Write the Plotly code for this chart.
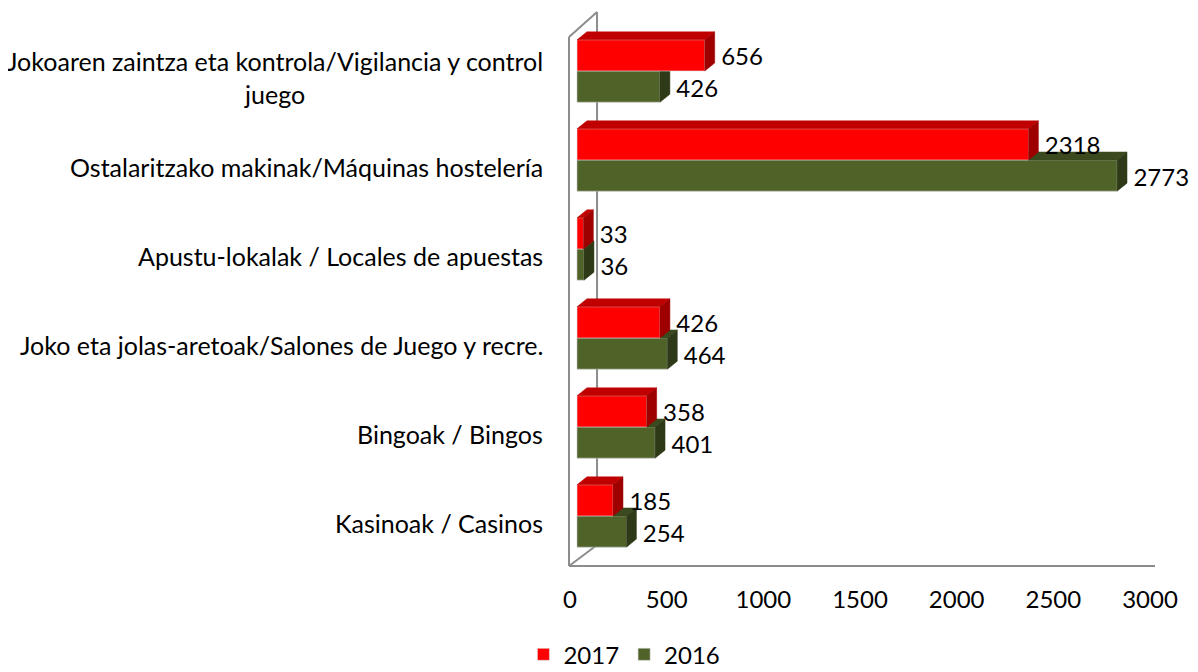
import plotly.graph_objects as go

categories = [
    "Kasinoak / Casinos",
    "Bingoak / Bingos",
    "Joko eta jolas-aretoak/Salones de Juego y recre.",
    "Apustu-lokalak / Locales de apuestas",
    "Ostalaritzako makinak/Máquinas hostelería",
    "Jokoaren zaintza eta kontrola/Vigilancia y control<br>juego",
]
values_2017 = [185, 358, 426, 33, 2318, 656]
values_2016 = [254, 401, 464, 36, 2773, 426]
series_names = ["2017", "2016"]
x_ticks = [0, 500, 1000, 1500, 2000, 2500, 3000]

RED, RED_TOP, RED_SIDE = "#FF0000", "#C00000", "#9E0000"
GRN, GRN_TOP, GRN_SIDE = "#4F6228", "#3B4A1E", "#2E3A17"

FONT = "Lato"
FS = 24
FS_CAT = 25
XR = [-36, 2942]
YR = [-0.562, 5.663]
BW = 0.35
DX = 51      # depth offset in x units
DY = 0.09    # depth offset in y units
OFF = 0.175

fig = go.Figure()


def faces(vals, ycent, top_col, side_col, xa, ya):
    for v, yc in zip(vals, ycent):
        bot, top = yc - BW / 2, yc + BW / 2
        fig.add_trace(go.Scatter(
            x=[0, v, v + DX, DX, 0], y=[top, top, top + DY, top + DY, top],
            fill="toself", fillcolor=top_col, mode="lines",
            line=dict(width=0.5, color=top_col), showlegend=False,
            hoverinfo="skip", xaxis=xa, yaxis=ya))
        fig.add_trace(go.Scatter(
            x=[v, v, v + DX, v + DX, v], y=[bot, top, top + DY, bot + DY, bot],
            fill="toself", fillcolor=side_col, mode="lines",
            line=dict(width=0.5, color=side_col), showlegend=False,
            hoverinfo="skip", xaxis=xa, yaxis=ya))


idx = list(range(len(categories)))
y16 = [i - OFF for i in idx]
y17 = [i + OFF for i in idx]

# 2016 (behind) on main axes
fig.add_trace(go.Bar(x=values_2016, y=y16, orientation="h", width=BW,
                     marker=dict(color=GRN, line=dict(width=0.6, color="#c8c8c8")),
                     name=series_names[1], legendrank=2, xaxis="x", yaxis="y"))
faces(values_2016, y16, GRN_TOP, GRN_SIDE, "x", "y")

# invisible trace so the tick axis is drawn
fig.add_trace(go.Scatter(x=[x_ticks[0], x_ticks[-1]], y=[YR[0], YR[0]], mode="markers",
                         marker=dict(opacity=0, size=1), showlegend=False,
                         hoverinfo="skip", xaxis="x2", yaxis="y"))

# 2017 (front) on overlaying axes
fig.add_trace(go.Bar(x=values_2017, y=y17, orientation="h", width=BW,
                     marker=dict(color=RED, line=dict(width=0.6, color="#e0e0e0")),
                     name=series_names[0], legendrank=1, xaxis="x3", yaxis="y3"))
faces(values_2017, y17, RED_TOP, RED_SIDE, "x3", "y3")

# value labels
fig.add_trace(go.Scatter(
    x=[v + DX + 33 for v in values_2017] + [v + DX + 33 for v in values_2016],
    y=[y - 0.045 for y in y17 + y16], text=[str(v) for v in values_2017 + values_2016],
    mode="text", textposition="middle right", cliponaxis=False,
    textfont=dict(family=FONT, size=FS, color="black"),
    showlegend=False, hoverinfo="skip", xaxis="x3", yaxis="y3"))

# category labels
for i, c in enumerate(categories):
    fig.add_annotation(text=c, xref="paper", yref="y", x=-0.043, y=i - 0.075,
                       xanchor="right", yanchor="middle", align="center",
                       showarrow=False, font=dict(family=FONT, size=FS_CAT, color="black"))

# 3D frame lines
gray = dict(color="#8c8c8c", width=2)
frame = [
    (-0.0017, 0, -0.0017, 0.955),
    (-0.0017, 0.955, 0.0466, 1.0),
    (0.0466, 1.0, 0.0466, 0.0379),
    (-0.0017, 0, 0.0466, 0.0379),
    (-0.0017, 0, 1.0086, 0),
]
for x0, y0, x1, y1 in frame:
    fig.add_shape(type="line", xref="paper", yref="paper", x0=x0, y0=y0, x1=x1, y1=y1,
                  line=gray, layer="below")

hidden = dict(showgrid=False, zeroline=False, showticklabels=False, showline=False, fixedrange=True)
fig.update_layout(
    width=1190, height=664,
    margin=dict(l=562, r=48, t=4, b=106, autoexpand=False),
    paper_bgcolor="white", plot_bgcolor="white",
    barmode="overlay",
    xaxis=dict(range=XR, **hidden),
    yaxis=dict(range=YR, **hidden),
    xaxis3=dict(range=XR, overlaying="x", **hidden),
    yaxis3=dict(range=YR, overlaying="y", **hidden),
    xaxis2=dict(range=[0, 3000], overlaying="x", side="bottom", anchor="y",
                tickvals=x_ticks, ticktext=[str(t) for t in x_ticks],
                showgrid=False, zeroline=False, showline=False,
                ticks="", ticklabelstandoff=17,
                tickfont=dict(family=FONT, size=FS, color="black")),
    legend=dict(orientation="h", xref="container", yref="container",
                x=0.518, y=0.026, xanchor="center", yanchor="middle",
                font=dict(family=FONT, size=FS, color="black"),
                tracegroupgap=0),
    showlegend=True,
)
fig.write_html("out.html")
